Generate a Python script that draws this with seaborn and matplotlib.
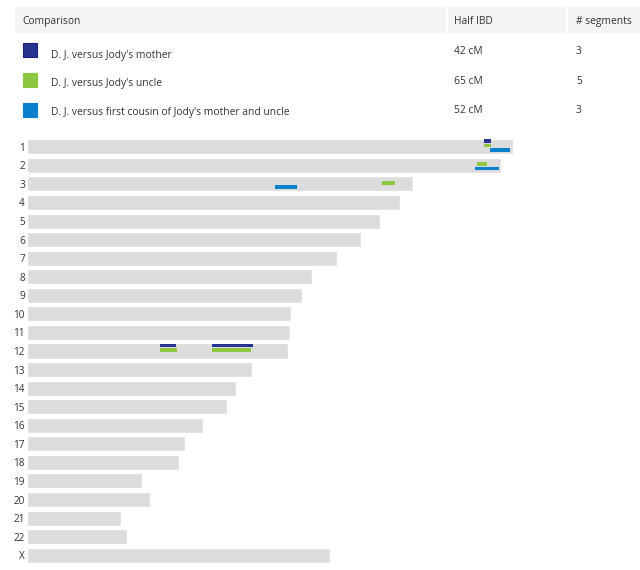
import matplotlib
matplotlib.use("Agg")
import matplotlib.pyplot as plt
import seaborn as sns
from matplotlib.patches import Rectangle

# chromosome lengths (Mb)
chroms = [str(i) for i in range(1, 23)] + ["X"]
lengths = [249.3, 243.2, 198.0, 191.2, 180.9, 171.1, 159.1, 146.4, 141.2, 135.5,
           135.0, 133.9, 115.2, 107.3, 102.5, 90.4, 81.2, 78.1, 59.1, 63.0,
           48.1, 51.3, 155.3]

# comparisons
comparisons = ["D. J. versus Jody's mother",
               "D. J. versus Jody's uncle",
               "D. J. versus first cousin of Jody's mother and uncle"]
half_ibd = ["42 cM", "65 cM", "52 cM"]
n_segments = ["3", "5", "3"]
colors = ["#26348f", "#8dc63f", "#0a7fcc"]

# shared segments per comparison: (chromosome, start Mb, end Mb)
mother_segs = [("1", 234.5, 237.9), ("12", 68.2, 76.4), ("12", 94.9, 115.8)]
uncle_segs = [("1", 234.5, 237.9), ("2", 230.7, 235.8), ("3", 181.9, 188.6),
              ("12", 68.3, 77.1), ("12", 95.1, 115.1)]
cousin_segs = [("1", 237.6, 247.8), ("2", 229.5, 242.2), ("3", 127.4, 138.7)]
all_segs = [mother_segs, uncle_segs, cousin_segs]

sns.set_theme(style="white")
plt.rcParams["font.family"] = ["Open Sans", "DejaVu Sans"]
txt = "#333333"

fig = plt.figure(figsize=(6.4, 5.7), dpi=100)

# chromosome bars
px_per_mb = 1.95
ax = fig.add_axes([27 / 640, 5.5 / 570, 613 / 640, 427 / 570])
sns.barplot(x=lengths, y=chroms, orient="h", color="#dcdcdc", saturation=1,
            width=0.81, ax=ax)
offsets = [-5.6 / 18.56, -1.2 / 18.56, 3.2 / 18.56]
for segs, col, off in zip(all_segs, colors, offsets):
    ys = [chroms.index(c) + off for c, s, e in segs]
    ax.barh(ys, [e - s for c, s, e in segs], left=[s for c, s, e in segs],
            height=3.6 / 18.56, color=col, linewidth=0)
ax.set_xlim(0, 613 / px_per_mb)
ax.set_ylim(22.5, -0.5)
ax.set_xticks([])
ax.set_xlabel("")
ax.set_ylabel("")
ax.tick_params(axis="y", length=0, pad=1.5, labelsize=7.2, labelcolor=txt)
for s in ax.spines.values():
    s.set_visible(False)

# comparison table on top
tab = fig.add_axes([0, 0, 1, 1])
tab.set_xlim(0, 640)
tab.set_ylim(570, 0)
tab.axis("off")
for x0, x1 in [(15, 446), (448, 566), (568, 640)]:
    tab.add_patch(Rectangle((x0, 7.3), x1 - x0, 26, color="#f4f4f4", lw=0))
fs = 7.4
tab.text(22.7, 24, "Comparison", fontsize=fs, color=txt)
tab.text(454.3, 24, "Half IBD", fontsize=fs, color=txt)
tab.text(576, 24, "# segments", fontsize=fs, color=txt)
sq_top = [43.3, 73.3, 103.3]
lab_base = [58, 86.4, 114.7]
val_base = [54.3, 83.7, 112.7]
edges = ["#1a237a", "#8dc63f", "#0a7fcc"]
for i in range(3):
    tab.add_patch(Rectangle((23, sq_top[i]), 14, 14, facecolor=colors[i],
                            edgecolor=edges[i], lw=0.8))
    tab.text(50.7, lab_base[i], comparisons[i], fontsize=fs, color=txt)
    tab.text(454.3, val_base[i], half_ibd[i], fontsize=fs, color=txt)
    tab.text(576, val_base[i], n_segments[i], fontsize=fs, color=txt)

fig.savefig("out.png", dpi=100)
